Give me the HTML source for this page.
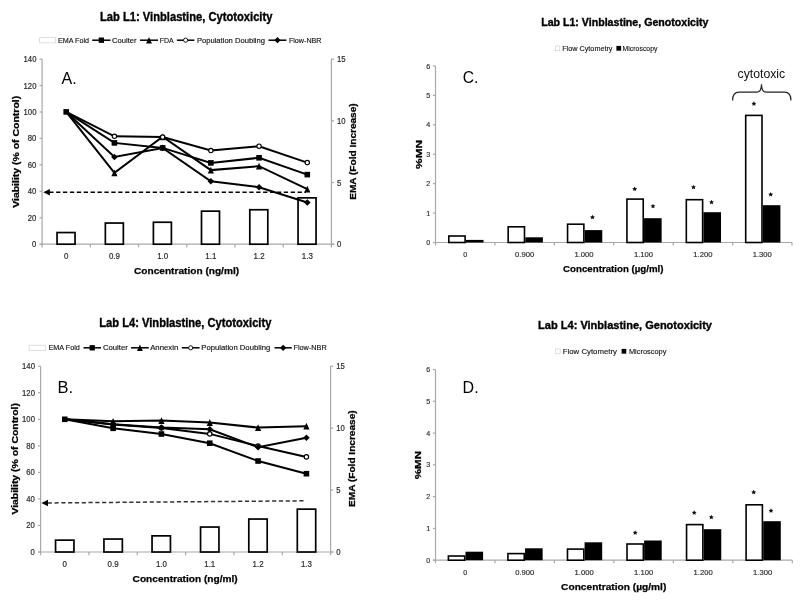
<!DOCTYPE html>
<html><head><meta charset="utf-8"><style>
html,body{margin:0;padding:0;background:#fff;}
svg{display:block;font-family:"Liberation Sans", sans-serif;will-change:transform;}
</style></head><body>
<svg width="800" height="604" viewBox="0 0 800 604">
<rect width="800" height="604" fill="#fff"/>
<text x="100.00" y="20.60" font-size="11.9" stroke="#000" stroke-width="0.35" font-weight="bold" textLength="172.40" lengthAdjust="spacingAndGlyphs">Lab L1: Vinblastine, Cytotoxicity</text>
<rect x="39.60" y="37.60" width="15.90" height="5.20" fill="#fff" stroke="#d8d8d8" stroke-width="0.8"/>
<text x="58.00" y="42.80" font-size="7.8" stroke="#111" stroke-width="0.15" fill="#111" textLength="31.00" lengthAdjust="spacingAndGlyphs">EMA Fold</text>
<text x="112.00" y="42.80" font-size="7.8" stroke="#111" stroke-width="0.15" fill="#111" textLength="24.50" lengthAdjust="spacingAndGlyphs">Coulter</text>
<text x="159.80" y="42.80" font-size="7.8" stroke="#111" stroke-width="0.15" fill="#111" textLength="14.00" lengthAdjust="spacingAndGlyphs">FDA</text>
<text x="196.90" y="42.80" font-size="7.8" stroke="#111" stroke-width="0.15" fill="#111" textLength="68.10" lengthAdjust="spacingAndGlyphs">Population Doubling</text>
<text x="288.90" y="42.80" font-size="7.8" stroke="#111" stroke-width="0.15" fill="#111" textLength="32.60" lengthAdjust="spacingAndGlyphs">Flow-NBR</text>
<line x1="92.20" y1="40.20" x2="110.50" y2="40.20" stroke="#000" stroke-width="1.5"/>
<rect x="98.69" y="37.54" width="5.32" height="5.32" fill="#000" stroke="none" stroke-width="1"/>
<line x1="140.00" y1="40.20" x2="158.00" y2="40.20" stroke="#000" stroke-width="1.5"/>
<path d="M149.00 36.97 L151.94 43.43 L146.06 43.43Z" fill="#000"/>
<line x1="176.90" y1="40.20" x2="194.40" y2="40.20" stroke="#000" stroke-width="1.5"/>
<circle cx="185.65" cy="40.20" r="2.09" fill="#fff" stroke="#000" stroke-width="0.9"/>
<line x1="268.50" y1="40.20" x2="286.40" y2="40.20" stroke="#000" stroke-width="1.5"/>
<path d="M277.45 37.07 L280.58 40.20 L277.45 43.34 L274.31 40.20Z" fill="#000"/>
<line x1="42.10" y1="59.10" x2="42.10" y2="244.70" stroke="#a8a8a8" stroke-width="1.2"/>
<line x1="331.40" y1="59.10" x2="331.40" y2="244.70" stroke="#a8a8a8" stroke-width="1.2"/>
<line x1="39.60" y1="244.20" x2="334.40" y2="244.20" stroke="#a8a8a8" stroke-width="1.2"/>
<line x1="39.50" y1="244.20" x2="42.10" y2="244.20" stroke="#a8a8a8" stroke-width="1.2"/>
<text x="0" y="0" transform="translate(36.40 247.20) scale(0.875 1)" font-size="8.8" stroke="#2a2a2a" stroke-width="0.2" fill="#2a2a2a" text-anchor="end">0</text>
<line x1="39.50" y1="217.76" x2="42.10" y2="217.76" stroke="#a8a8a8" stroke-width="1.2"/>
<text x="0" y="0" transform="translate(36.40 220.76) scale(0.875 1)" font-size="8.8" stroke="#2a2a2a" stroke-width="0.2" fill="#2a2a2a" text-anchor="end">20</text>
<line x1="39.50" y1="191.31" x2="42.10" y2="191.31" stroke="#a8a8a8" stroke-width="1.2"/>
<text x="0" y="0" transform="translate(36.40 194.31) scale(0.875 1)" font-size="8.8" stroke="#2a2a2a" stroke-width="0.2" fill="#2a2a2a" text-anchor="end">40</text>
<line x1="39.50" y1="164.87" x2="42.10" y2="164.87" stroke="#a8a8a8" stroke-width="1.2"/>
<text x="0" y="0" transform="translate(36.40 167.87) scale(0.875 1)" font-size="8.8" stroke="#2a2a2a" stroke-width="0.2" fill="#2a2a2a" text-anchor="end">60</text>
<line x1="39.50" y1="138.43" x2="42.10" y2="138.43" stroke="#a8a8a8" stroke-width="1.2"/>
<text x="0" y="0" transform="translate(36.40 141.43) scale(0.875 1)" font-size="8.8" stroke="#2a2a2a" stroke-width="0.2" fill="#2a2a2a" text-anchor="end">80</text>
<line x1="39.50" y1="111.99" x2="42.10" y2="111.99" stroke="#a8a8a8" stroke-width="1.2"/>
<text x="0" y="0" transform="translate(36.40 114.99) scale(0.875 1)" font-size="8.8" stroke="#2a2a2a" stroke-width="0.2" fill="#2a2a2a" text-anchor="end">100</text>
<line x1="39.50" y1="85.54" x2="42.10" y2="85.54" stroke="#a8a8a8" stroke-width="1.2"/>
<text x="0" y="0" transform="translate(36.40 88.54) scale(0.875 1)" font-size="8.8" stroke="#2a2a2a" stroke-width="0.2" fill="#2a2a2a" text-anchor="end">120</text>
<line x1="39.50" y1="59.10" x2="42.10" y2="59.10" stroke="#a8a8a8" stroke-width="1.2"/>
<text x="0" y="0" transform="translate(36.40 62.10) scale(0.875 1)" font-size="8.8" stroke="#2a2a2a" stroke-width="0.2" fill="#2a2a2a" text-anchor="end">140</text>
<line x1="331.40" y1="244.20" x2="334.00" y2="244.20" stroke="#a8a8a8" stroke-width="1.2"/>
<text x="0" y="0" transform="translate(337.00 247.20) scale(0.875 1)" font-size="8.8" stroke="#2a2a2a" stroke-width="0.2" fill="#2a2a2a">0</text>
<line x1="331.40" y1="182.50" x2="334.00" y2="182.50" stroke="#a8a8a8" stroke-width="1.2"/>
<text x="0" y="0" transform="translate(337.00 185.50) scale(0.875 1)" font-size="8.8" stroke="#2a2a2a" stroke-width="0.2" fill="#2a2a2a">5</text>
<line x1="331.40" y1="120.80" x2="334.00" y2="120.80" stroke="#a8a8a8" stroke-width="1.2"/>
<text x="0" y="0" transform="translate(337.00 123.80) scale(0.875 1)" font-size="8.8" stroke="#2a2a2a" stroke-width="0.2" fill="#2a2a2a">10</text>
<line x1="331.40" y1="59.10" x2="334.00" y2="59.10" stroke="#a8a8a8" stroke-width="1.2"/>
<text x="0" y="0" transform="translate(337.00 62.10) scale(0.875 1)" font-size="8.8" stroke="#2a2a2a" stroke-width="0.2" fill="#2a2a2a">15</text>
<line x1="42.10" y1="244.20" x2="42.10" y2="247.40" stroke="#a8a8a8" stroke-width="1.2"/>
<line x1="90.32" y1="244.20" x2="90.32" y2="247.40" stroke="#a8a8a8" stroke-width="1.2"/>
<line x1="138.53" y1="244.20" x2="138.53" y2="247.40" stroke="#a8a8a8" stroke-width="1.2"/>
<line x1="186.75" y1="244.20" x2="186.75" y2="247.40" stroke="#a8a8a8" stroke-width="1.2"/>
<line x1="234.97" y1="244.20" x2="234.97" y2="247.40" stroke="#a8a8a8" stroke-width="1.2"/>
<line x1="283.18" y1="244.20" x2="283.18" y2="247.40" stroke="#a8a8a8" stroke-width="1.2"/>
<line x1="331.40" y1="244.20" x2="331.40" y2="247.40" stroke="#a8a8a8" stroke-width="1.2"/>
<text x="0" y="0" transform="translate(66.21 258.90) scale(0.90125 1)" font-size="8.8" stroke="#2a2a2a" stroke-width="0.2" fill="#2a2a2a" text-anchor="middle">0</text>
<text x="0" y="0" transform="translate(114.42 258.90) scale(0.90125 1)" font-size="8.8" stroke="#2a2a2a" stroke-width="0.2" fill="#2a2a2a" text-anchor="middle">0.9</text>
<text x="0" y="0" transform="translate(162.64 258.90) scale(0.90125 1)" font-size="8.8" stroke="#2a2a2a" stroke-width="0.2" fill="#2a2a2a" text-anchor="middle">1.0</text>
<text x="0" y="0" transform="translate(210.86 258.90) scale(0.90125 1)" font-size="8.8" stroke="#2a2a2a" stroke-width="0.2" fill="#2a2a2a" text-anchor="middle">1.1</text>
<text x="0" y="0" transform="translate(259.07 258.90) scale(0.90125 1)" font-size="8.8" stroke="#2a2a2a" stroke-width="0.2" fill="#2a2a2a" text-anchor="middle">1.2</text>
<text x="0" y="0" transform="translate(307.29 258.90) scale(0.90125 1)" font-size="8.8" stroke="#2a2a2a" stroke-width="0.2" fill="#2a2a2a" text-anchor="middle">1.3</text>
<text x="18.60" y="207.80" font-size="8.35" stroke="#000" stroke-width="0.25" font-weight="bold" textLength="112.00" lengthAdjust="spacingAndGlyphs" transform="rotate(-90 18.60 207.80)">Viability (% of Control)</text>
<text x="356.30" y="199.80" font-size="8.35" stroke="#000" stroke-width="0.25" font-weight="bold" textLength="96.50" lengthAdjust="spacingAndGlyphs" transform="rotate(-90 356.30 199.80)">EMA (Fold Increase)</text>
<text x="134.00" y="273.90" font-size="9.6" stroke="#000" stroke-width="0.25" font-weight="bold" textLength="105.10" lengthAdjust="spacingAndGlyphs">Concentration (ng/ml)</text>
<text x="61.60" y="84.00" font-size="16">A.</text>
<rect x="57.05" y="232.55" width="18.00" height="11.65" fill="#fff" stroke="#000" stroke-width="1.7"/>
<rect x="105.35" y="223.05" width="18.00" height="21.15" fill="#fff" stroke="#000" stroke-width="1.7"/>
<rect x="153.40" y="222.25" width="18.00" height="21.95" fill="#fff" stroke="#000" stroke-width="1.7"/>
<rect x="201.50" y="211.15" width="18.00" height="33.05" fill="#fff" stroke="#000" stroke-width="1.7"/>
<rect x="249.80" y="209.75" width="18.00" height="34.45" fill="#fff" stroke="#000" stroke-width="1.7"/>
<rect x="298.05" y="197.85" width="18.00" height="46.35" fill="#fff" stroke="#000" stroke-width="1.7"/>
<line x1="49.20" y1="192.30" x2="306.00" y2="192.30" stroke="#000" stroke-width="1.5" stroke-dasharray="4.3 2.6"/>
<path d="M43.30 192.30 L49.90 189.00 L49.90 195.60Z" fill="#000"/>
<polyline points="66.21,111.90 114.42,172.80 162.64,136.80 210.86,170.10 259.07,166.20 307.29,189.20" fill="none" stroke="#000" stroke-width="2" stroke-linejoin="miter"/>
<polyline points="66.21,111.90 114.42,136.30 162.64,137.00 210.86,150.50 259.07,146.20 307.29,162.60" fill="none" stroke="#000" stroke-width="2" stroke-linejoin="miter"/>
<polyline points="66.21,111.90 114.42,157.00 162.64,148.00 210.86,181.30 259.07,187.20 307.29,202.50" fill="none" stroke="#000" stroke-width="2" stroke-linejoin="miter"/>
<polyline points="66.21,111.90 114.42,142.90 162.64,147.90 210.86,162.90 259.07,157.80 307.29,174.60" fill="none" stroke="#000" stroke-width="2" stroke-linejoin="miter"/>
<path d="M114.42 169.40 L117.52 176.20 L111.32 176.20Z" fill="#000"/>
<path d="M162.64 133.40 L165.74 140.20 L159.54 140.20Z" fill="#000"/>
<path d="M210.86 166.70 L213.96 173.50 L207.76 173.50Z" fill="#000"/>
<path d="M259.07 162.80 L262.18 169.60 L255.97 169.60Z" fill="#000"/>
<path d="M307.29 185.80 L310.39 192.60 L304.19 192.60Z" fill="#000"/>
<circle cx="114.42" cy="136.30" r="2.20" fill="#fff" stroke="#000" stroke-width="1.15"/>
<circle cx="162.64" cy="137.00" r="2.20" fill="#fff" stroke="#000" stroke-width="1.15"/>
<circle cx="210.86" cy="150.50" r="2.20" fill="#fff" stroke="#000" stroke-width="1.15"/>
<circle cx="259.07" cy="146.20" r="2.20" fill="#fff" stroke="#000" stroke-width="1.15"/>
<circle cx="307.29" cy="162.60" r="2.20" fill="#fff" stroke="#000" stroke-width="1.15"/>
<path d="M114.42 153.70 L117.72 157.00 L114.42 160.30 L111.12 157.00Z" fill="#000"/>
<path d="M162.64 144.70 L165.94 148.00 L162.64 151.30 L159.34 148.00Z" fill="#000"/>
<path d="M210.86 178.00 L214.16 181.30 L210.86 184.60 L207.56 181.30Z" fill="#000"/>
<path d="M259.07 183.90 L262.38 187.20 L259.07 190.50 L255.77 187.20Z" fill="#000"/>
<path d="M307.29 199.20 L310.59 202.50 L307.29 205.80 L303.99 202.50Z" fill="#000"/>
<rect x="63.41" y="109.10" width="5.60" height="5.60" fill="#000" stroke="none" stroke-width="1"/>
<rect x="111.62" y="140.10" width="5.60" height="5.60" fill="#000" stroke="none" stroke-width="1"/>
<rect x="159.84" y="145.10" width="5.60" height="5.60" fill="#000" stroke="none" stroke-width="1"/>
<rect x="208.06" y="160.10" width="5.60" height="5.60" fill="#000" stroke="none" stroke-width="1"/>
<rect x="256.27" y="155.00" width="5.60" height="5.60" fill="#000" stroke="none" stroke-width="1"/>
<rect x="304.49" y="171.80" width="5.60" height="5.60" fill="#000" stroke="none" stroke-width="1"/>
<text x="99.20" y="327.20" font-size="11.9" stroke="#000" stroke-width="0.35" font-weight="bold" textLength="172.20" lengthAdjust="spacingAndGlyphs">Lab L4: Vinblastine, Cytotoxicity</text>
<rect x="29.10" y="345.20" width="16.50" height="5.20" fill="#fff" stroke="#d8d8d8" stroke-width="0.8"/>
<text x="48.50" y="350.40" font-size="7.8" stroke="#111" stroke-width="0.15" fill="#111" textLength="31.30" lengthAdjust="spacingAndGlyphs">EMA Fold</text>
<text x="102.90" y="350.40" font-size="7.8" stroke="#111" stroke-width="0.15" fill="#111" textLength="24.90" lengthAdjust="spacingAndGlyphs">Coulter</text>
<text x="150.20" y="350.40" font-size="7.8" stroke="#111" stroke-width="0.15" fill="#111" textLength="28.10" lengthAdjust="spacingAndGlyphs">Annexin</text>
<text x="201.30" y="350.40" font-size="7.8" stroke="#111" stroke-width="0.15" fill="#111" textLength="68.90" lengthAdjust="spacingAndGlyphs">Population Doubling</text>
<text x="293.50" y="350.40" font-size="7.8" stroke="#111" stroke-width="0.15" fill="#111" textLength="33.20" lengthAdjust="spacingAndGlyphs">Flow-NBR</text>
<line x1="83.50" y1="347.80" x2="101.00" y2="347.80" stroke="#000" stroke-width="1.5"/>
<rect x="89.59" y="345.14" width="5.32" height="5.32" fill="#000" stroke="none" stroke-width="1"/>
<line x1="131.00" y1="347.80" x2="148.80" y2="347.80" stroke="#000" stroke-width="1.5"/>
<path d="M139.90 344.57 L142.84 351.03 L136.96 351.03Z" fill="#000"/>
<line x1="181.80" y1="347.80" x2="199.60" y2="347.80" stroke="#000" stroke-width="1.5"/>
<circle cx="190.70" cy="347.80" r="2.09" fill="#fff" stroke="#000" stroke-width="0.9"/>
<line x1="274.50" y1="347.80" x2="291.80" y2="347.80" stroke="#000" stroke-width="1.5"/>
<path d="M283.15 344.67 L286.28 347.80 L283.15 350.94 L280.01 347.80Z" fill="#000"/>
<line x1="40.60" y1="366.20" x2="40.60" y2="552.50" stroke="#a8a8a8" stroke-width="1.2"/>
<line x1="330.60" y1="366.20" x2="330.60" y2="552.50" stroke="#a8a8a8" stroke-width="1.2"/>
<line x1="38.10" y1="552.00" x2="333.60" y2="552.00" stroke="#a8a8a8" stroke-width="1.2"/>
<line x1="38.00" y1="552.00" x2="40.60" y2="552.00" stroke="#a8a8a8" stroke-width="1.2"/>
<text x="0" y="0" transform="translate(34.90 555.00) scale(0.875 1)" font-size="8.8" stroke="#2a2a2a" stroke-width="0.2" fill="#2a2a2a" text-anchor="end">0</text>
<line x1="38.00" y1="525.46" x2="40.60" y2="525.46" stroke="#a8a8a8" stroke-width="1.2"/>
<text x="0" y="0" transform="translate(34.90 528.46) scale(0.875 1)" font-size="8.8" stroke="#2a2a2a" stroke-width="0.2" fill="#2a2a2a" text-anchor="end">20</text>
<line x1="38.00" y1="498.91" x2="40.60" y2="498.91" stroke="#a8a8a8" stroke-width="1.2"/>
<text x="0" y="0" transform="translate(34.90 501.91) scale(0.875 1)" font-size="8.8" stroke="#2a2a2a" stroke-width="0.2" fill="#2a2a2a" text-anchor="end">40</text>
<line x1="38.00" y1="472.37" x2="40.60" y2="472.37" stroke="#a8a8a8" stroke-width="1.2"/>
<text x="0" y="0" transform="translate(34.90 475.37) scale(0.875 1)" font-size="8.8" stroke="#2a2a2a" stroke-width="0.2" fill="#2a2a2a" text-anchor="end">60</text>
<line x1="38.00" y1="445.83" x2="40.60" y2="445.83" stroke="#a8a8a8" stroke-width="1.2"/>
<text x="0" y="0" transform="translate(34.90 448.83) scale(0.875 1)" font-size="8.8" stroke="#2a2a2a" stroke-width="0.2" fill="#2a2a2a" text-anchor="end">80</text>
<line x1="38.00" y1="419.29" x2="40.60" y2="419.29" stroke="#a8a8a8" stroke-width="1.2"/>
<text x="0" y="0" transform="translate(34.90 422.29) scale(0.875 1)" font-size="8.8" stroke="#2a2a2a" stroke-width="0.2" fill="#2a2a2a" text-anchor="end">100</text>
<line x1="38.00" y1="392.74" x2="40.60" y2="392.74" stroke="#a8a8a8" stroke-width="1.2"/>
<text x="0" y="0" transform="translate(34.90 395.74) scale(0.875 1)" font-size="8.8" stroke="#2a2a2a" stroke-width="0.2" fill="#2a2a2a" text-anchor="end">120</text>
<line x1="38.00" y1="366.20" x2="40.60" y2="366.20" stroke="#a8a8a8" stroke-width="1.2"/>
<text x="0" y="0" transform="translate(34.90 369.20) scale(0.875 1)" font-size="8.8" stroke="#2a2a2a" stroke-width="0.2" fill="#2a2a2a" text-anchor="end">140</text>
<line x1="330.60" y1="552.00" x2="333.20" y2="552.00" stroke="#a8a8a8" stroke-width="1.2"/>
<text x="0" y="0" transform="translate(336.20 555.00) scale(0.875 1)" font-size="8.8" stroke="#2a2a2a" stroke-width="0.2" fill="#2a2a2a">0</text>
<line x1="330.60" y1="490.07" x2="333.20" y2="490.07" stroke="#a8a8a8" stroke-width="1.2"/>
<text x="0" y="0" transform="translate(336.20 493.07) scale(0.875 1)" font-size="8.8" stroke="#2a2a2a" stroke-width="0.2" fill="#2a2a2a">5</text>
<line x1="330.60" y1="428.13" x2="333.20" y2="428.13" stroke="#a8a8a8" stroke-width="1.2"/>
<text x="0" y="0" transform="translate(336.20 431.13) scale(0.875 1)" font-size="8.8" stroke="#2a2a2a" stroke-width="0.2" fill="#2a2a2a">10</text>
<line x1="330.60" y1="366.20" x2="333.20" y2="366.20" stroke="#a8a8a8" stroke-width="1.2"/>
<text x="0" y="0" transform="translate(336.20 369.20) scale(0.875 1)" font-size="8.8" stroke="#2a2a2a" stroke-width="0.2" fill="#2a2a2a">15</text>
<line x1="40.60" y1="552.00" x2="40.60" y2="555.20" stroke="#a8a8a8" stroke-width="1.2"/>
<line x1="88.93" y1="552.00" x2="88.93" y2="555.20" stroke="#a8a8a8" stroke-width="1.2"/>
<line x1="137.27" y1="552.00" x2="137.27" y2="555.20" stroke="#a8a8a8" stroke-width="1.2"/>
<line x1="185.60" y1="552.00" x2="185.60" y2="555.20" stroke="#a8a8a8" stroke-width="1.2"/>
<line x1="233.93" y1="552.00" x2="233.93" y2="555.20" stroke="#a8a8a8" stroke-width="1.2"/>
<line x1="282.27" y1="552.00" x2="282.27" y2="555.20" stroke="#a8a8a8" stroke-width="1.2"/>
<line x1="330.60" y1="552.00" x2="330.60" y2="555.20" stroke="#a8a8a8" stroke-width="1.2"/>
<text x="0" y="0" transform="translate(64.77 566.50) scale(0.90125 1)" font-size="8.8" stroke="#2a2a2a" stroke-width="0.2" fill="#2a2a2a" text-anchor="middle">0</text>
<text x="0" y="0" transform="translate(113.10 566.50) scale(0.90125 1)" font-size="8.8" stroke="#2a2a2a" stroke-width="0.2" fill="#2a2a2a" text-anchor="middle">0.9</text>
<text x="0" y="0" transform="translate(161.43 566.50) scale(0.90125 1)" font-size="8.8" stroke="#2a2a2a" stroke-width="0.2" fill="#2a2a2a" text-anchor="middle">1.0</text>
<text x="0" y="0" transform="translate(209.77 566.50) scale(0.90125 1)" font-size="8.8" stroke="#2a2a2a" stroke-width="0.2" fill="#2a2a2a" text-anchor="middle">1.1</text>
<text x="0" y="0" transform="translate(258.10 566.50) scale(0.90125 1)" font-size="8.8" stroke="#2a2a2a" stroke-width="0.2" fill="#2a2a2a" text-anchor="middle">1.2</text>
<text x="0" y="0" transform="translate(306.43 566.50) scale(0.90125 1)" font-size="8.8" stroke="#2a2a2a" stroke-width="0.2" fill="#2a2a2a" text-anchor="middle">1.3</text>
<text x="17.60" y="514.60" font-size="8.35" stroke="#000" stroke-width="0.25" font-weight="bold" textLength="111.50" lengthAdjust="spacingAndGlyphs" transform="rotate(-90 17.60 514.60)">Viability (% of Control)</text>
<text x="355.30" y="506.90" font-size="8.35" stroke="#000" stroke-width="0.25" font-weight="bold" textLength="96.50" lengthAdjust="spacingAndGlyphs" transform="rotate(-90 355.30 506.90)">EMA (Fold Increase)</text>
<text x="132.60" y="582.00" font-size="9.6" stroke="#000" stroke-width="0.25" font-weight="bold" textLength="105.10" lengthAdjust="spacingAndGlyphs">Concentration (ng/ml)</text>
<text x="57.40" y="392.50" font-size="16.5">B.</text>
<rect x="55.55" y="540.15" width="18.40" height="11.85" fill="#fff" stroke="#000" stroke-width="1.7"/>
<rect x="103.95" y="539.05" width="18.40" height="12.95" fill="#fff" stroke="#000" stroke-width="1.7"/>
<rect x="152.05" y="535.85" width="18.40" height="16.15" fill="#fff" stroke="#000" stroke-width="1.7"/>
<rect x="200.55" y="527.05" width="18.40" height="24.95" fill="#fff" stroke="#000" stroke-width="1.7"/>
<rect x="248.80" y="519.05" width="18.40" height="32.95" fill="#fff" stroke="#000" stroke-width="1.7"/>
<rect x="297.30" y="509.15" width="18.40" height="42.85" fill="#fff" stroke="#000" stroke-width="1.7"/>
<line x1="47.70" y1="502.95" x2="306.00" y2="500.80" stroke="#333" stroke-width="1.5" stroke-dasharray="4.2 2.6"/>
<path d="M41.40 503.00 L48.00 499.70 L48.00 506.30Z" fill="#000"/>
<polyline points="64.77,419.30 113.10,421.30 161.43,420.60 209.77,422.50 258.10,427.60 306.43,426.20" fill="none" stroke="#000" stroke-width="2" stroke-linejoin="miter"/>
<polyline points="64.77,419.30 113.10,424.50 161.43,428.00 209.77,433.90 258.10,446.00 306.43,456.90" fill="none" stroke="#000" stroke-width="2" stroke-linejoin="miter"/>
<polyline points="64.77,419.30 113.10,424.30 161.43,427.50 209.77,429.20 258.10,447.30 306.43,437.80" fill="none" stroke="#000" stroke-width="2" stroke-linejoin="miter"/>
<polyline points="64.77,419.30 113.10,428.30 161.43,434.00 209.77,443.20 258.10,461.00 306.43,473.70" fill="none" stroke="#000" stroke-width="2" stroke-linejoin="miter"/>
<path d="M113.10 417.90 L116.20 424.70 L110.00 424.70Z" fill="#000"/>
<path d="M161.43 417.20 L164.53 424.00 L158.33 424.00Z" fill="#000"/>
<path d="M209.77 419.10 L212.87 425.90 L206.67 425.90Z" fill="#000"/>
<path d="M258.10 424.20 L261.20 431.00 L255.00 431.00Z" fill="#000"/>
<path d="M306.43 422.80 L309.53 429.60 L303.33 429.60Z" fill="#000"/>
<circle cx="113.10" cy="424.50" r="2.20" fill="#fff" stroke="#000" stroke-width="1.15"/>
<circle cx="161.43" cy="428.00" r="2.20" fill="#fff" stroke="#000" stroke-width="1.15"/>
<circle cx="209.77" cy="433.90" r="2.20" fill="#fff" stroke="#000" stroke-width="1.15"/>
<circle cx="258.10" cy="446.00" r="2.20" fill="#fff" stroke="#000" stroke-width="1.15"/>
<circle cx="306.43" cy="456.90" r="2.20" fill="#fff" stroke="#000" stroke-width="1.15"/>
<path d="M113.10 421.00 L116.40 424.30 L113.10 427.60 L109.80 424.30Z" fill="#000"/>
<path d="M161.43 424.20 L164.73 427.50 L161.43 430.80 L158.13 427.50Z" fill="#000"/>
<path d="M209.77 425.90 L213.07 429.20 L209.77 432.50 L206.47 429.20Z" fill="#000"/>
<path d="M258.10 444.00 L261.40 447.30 L258.10 450.60 L254.80 447.30Z" fill="#000"/>
<path d="M306.43 434.50 L309.73 437.80 L306.43 441.10 L303.13 437.80Z" fill="#000"/>
<rect x="61.97" y="416.50" width="5.60" height="5.60" fill="#000" stroke="none" stroke-width="1"/>
<rect x="110.30" y="425.50" width="5.60" height="5.60" fill="#000" stroke="none" stroke-width="1"/>
<rect x="158.63" y="431.20" width="5.60" height="5.60" fill="#000" stroke="none" stroke-width="1"/>
<rect x="206.97" y="440.40" width="5.60" height="5.60" fill="#000" stroke="none" stroke-width="1"/>
<rect x="255.30" y="458.20" width="5.60" height="5.60" fill="#000" stroke="none" stroke-width="1"/>
<rect x="303.63" y="470.90" width="5.60" height="5.60" fill="#000" stroke="none" stroke-width="1"/>
<text x="541.20" y="26.10" font-size="10.1" stroke="#000" stroke-width="0.35" font-weight="bold" textLength="167.20" lengthAdjust="spacingAndGlyphs">Lab L1: Vinblastine, Genotoxicity</text>
<rect x="555.50" y="45.90" width="4.30" height="4.80" fill="#fff" stroke="#d0d0d0" stroke-width="0.7"/>
<rect x="616.40" y="45.90" width="4.70" height="4.80" fill="#000" stroke="none" stroke-width="1"/>
<text x="562.20" y="50.80" font-size="7.2" stroke="#111" stroke-width="0.12" fill="#111" textLength="50.30" lengthAdjust="spacingAndGlyphs">Flow Cytometry</text>
<text x="622.60" y="50.80" font-size="7.2" stroke="#111" stroke-width="0.12" fill="#111" textLength="34.90" lengthAdjust="spacingAndGlyphs">Microscopy</text>
<line x1="435.50" y1="66.00" x2="435.50" y2="243.00" stroke="#a8a8a8" stroke-width="1.2"/>
<line x1="433.00" y1="242.50" x2="792.00" y2="242.50" stroke="#a8a8a8" stroke-width="1.2"/>
<line x1="432.90" y1="242.50" x2="435.50" y2="242.50" stroke="#a8a8a8" stroke-width="1.2"/>
<text x="0" y="0" transform="translate(430.30 245.10) scale(0.92 1)" font-size="7.8" stroke="#2a2a2a" stroke-width="0.15" fill="#2a2a2a" text-anchor="end">0</text>
<line x1="432.90" y1="213.08" x2="435.50" y2="213.08" stroke="#a8a8a8" stroke-width="1.2"/>
<text x="0" y="0" transform="translate(430.30 215.68) scale(0.92 1)" font-size="7.8" stroke="#2a2a2a" stroke-width="0.15" fill="#2a2a2a" text-anchor="end">1</text>
<line x1="432.90" y1="183.67" x2="435.50" y2="183.67" stroke="#a8a8a8" stroke-width="1.2"/>
<text x="0" y="0" transform="translate(430.30 186.27) scale(0.92 1)" font-size="7.8" stroke="#2a2a2a" stroke-width="0.15" fill="#2a2a2a" text-anchor="end">2</text>
<line x1="432.90" y1="154.25" x2="435.50" y2="154.25" stroke="#a8a8a8" stroke-width="1.2"/>
<text x="0" y="0" transform="translate(430.30 156.85) scale(0.92 1)" font-size="7.8" stroke="#2a2a2a" stroke-width="0.15" fill="#2a2a2a" text-anchor="end">3</text>
<line x1="432.90" y1="124.83" x2="435.50" y2="124.83" stroke="#a8a8a8" stroke-width="1.2"/>
<text x="0" y="0" transform="translate(430.30 127.43) scale(0.92 1)" font-size="7.8" stroke="#2a2a2a" stroke-width="0.15" fill="#2a2a2a" text-anchor="end">4</text>
<line x1="432.90" y1="95.42" x2="435.50" y2="95.42" stroke="#a8a8a8" stroke-width="1.2"/>
<text x="0" y="0" transform="translate(430.30 98.02) scale(0.92 1)" font-size="7.8" stroke="#2a2a2a" stroke-width="0.15" fill="#2a2a2a" text-anchor="end">5</text>
<line x1="432.90" y1="66.00" x2="435.50" y2="66.00" stroke="#a8a8a8" stroke-width="1.2"/>
<text x="0" y="0" transform="translate(430.30 68.60) scale(0.92 1)" font-size="7.8" stroke="#2a2a2a" stroke-width="0.15" fill="#2a2a2a" text-anchor="end">6</text>
<line x1="435.50" y1="242.50" x2="435.50" y2="245.50" stroke="#a8a8a8" stroke-width="1.2"/>
<line x1="494.92" y1="242.50" x2="494.92" y2="245.50" stroke="#a8a8a8" stroke-width="1.2"/>
<line x1="554.33" y1="242.50" x2="554.33" y2="245.50" stroke="#a8a8a8" stroke-width="1.2"/>
<line x1="613.75" y1="242.50" x2="613.75" y2="245.50" stroke="#a8a8a8" stroke-width="1.2"/>
<line x1="673.17" y1="242.50" x2="673.17" y2="245.50" stroke="#a8a8a8" stroke-width="1.2"/>
<line x1="732.58" y1="242.50" x2="732.58" y2="245.50" stroke="#a8a8a8" stroke-width="1.2"/>
<line x1="792.00" y1="242.50" x2="792.00" y2="245.50" stroke="#a8a8a8" stroke-width="1.2"/>
<text x="0" y="0" transform="translate(465.21 257.10) scale(0.92 1)" font-size="7.8" stroke="#2a2a2a" stroke-width="0.15" fill="#2a2a2a" text-anchor="middle">0</text>
<text x="0" y="0" transform="translate(524.62 257.10) scale(0.9813333333333334 1)" font-size="7.8" stroke="#2a2a2a" stroke-width="0.15" fill="#2a2a2a" text-anchor="middle">0.900</text>
<text x="0" y="0" transform="translate(584.04 257.10) scale(0.9813333333333334 1)" font-size="7.8" stroke="#2a2a2a" stroke-width="0.15" fill="#2a2a2a" text-anchor="middle">1.000</text>
<text x="0" y="0" transform="translate(643.46 257.10) scale(0.9813333333333334 1)" font-size="7.8" stroke="#2a2a2a" stroke-width="0.15" fill="#2a2a2a" text-anchor="middle">1.100</text>
<text x="0" y="0" transform="translate(702.88 257.10) scale(0.9813333333333334 1)" font-size="7.8" stroke="#2a2a2a" stroke-width="0.15" fill="#2a2a2a" text-anchor="middle">1.200</text>
<text x="0" y="0" transform="translate(762.29 257.10) scale(0.9813333333333334 1)" font-size="7.8" stroke="#2a2a2a" stroke-width="0.15" fill="#2a2a2a" text-anchor="middle">1.300</text>
<text x="422.20" y="168.90" font-size="8.6" stroke="#000" stroke-width="0.25" font-weight="bold" textLength="29.00" lengthAdjust="spacingAndGlyphs" transform="rotate(-90 422.20 168.90)">%MN</text>
<text x="563.10" y="271.90" font-size="9.8" stroke="#000" stroke-width="0.25" font-weight="bold" textLength="100.40" lengthAdjust="spacingAndGlyphs">Concentration (µg/ml)</text>
<text x="462.70" y="83.10" font-size="15.6">C.</text>
<rect x="465.90" y="239.90" width="17.60" height="2.60" fill="#000" stroke="none" stroke-width="1"/>
<rect x="448.80" y="236.00" width="16.30" height="6.50" fill="#fff" stroke="#000" stroke-width="1.6"/>
<rect x="525.28" y="237.30" width="17.60" height="5.20" fill="#000" stroke="none" stroke-width="1"/>
<rect x="508.18" y="226.80" width="16.30" height="15.70" fill="#fff" stroke="#000" stroke-width="1.6"/>
<rect x="584.66" y="230.10" width="17.60" height="12.40" fill="#000" stroke="none" stroke-width="1"/>
<rect x="567.56" y="224.20" width="16.30" height="18.30" fill="#fff" stroke="#000" stroke-width="1.6"/>
<rect x="644.04" y="218.20" width="17.60" height="24.30" fill="#000" stroke="none" stroke-width="1"/>
<rect x="626.94" y="199.10" width="16.30" height="43.40" fill="#fff" stroke="#000" stroke-width="1.6"/>
<rect x="703.42" y="212.20" width="17.60" height="30.30" fill="#000" stroke="none" stroke-width="1"/>
<rect x="686.32" y="199.70" width="16.30" height="42.80" fill="#fff" stroke="#000" stroke-width="1.6"/>
<rect x="762.80" y="205.20" width="17.60" height="37.30" fill="#000" stroke="none" stroke-width="1"/>
<rect x="745.70" y="115.40" width="16.30" height="127.10" fill="#fff" stroke="#000" stroke-width="1.6"/>
<polygon points="592.50,214.75 593.26,216.25 594.93,216.51 593.74,217.70 594.00,219.36 592.50,218.60 591.00,219.36 591.26,217.70 590.07,216.51 591.74,216.25" fill="#111"/>
<polygon points="634.70,186.45 635.46,187.95 637.13,188.21 635.94,189.40 636.20,191.06 634.70,190.30 633.20,191.06 633.46,189.40 632.27,188.21 633.94,187.95" fill="#111"/>
<polygon points="653.00,203.65 653.76,205.15 655.43,205.41 654.24,206.60 654.50,208.26 653.00,207.50 651.50,208.26 651.76,206.60 650.57,205.41 652.24,205.15" fill="#111"/>
<polygon points="693.50,184.65 694.26,186.15 695.93,186.41 694.74,187.60 695.00,189.26 693.50,188.50 692.00,189.26 692.26,187.60 691.07,186.41 692.74,186.15" fill="#111"/>
<polygon points="711.50,199.65 712.26,201.15 713.93,201.41 712.74,202.60 713.00,204.26 711.50,203.50 710.00,204.26 710.26,202.60 709.07,201.41 710.74,201.15" fill="#111"/>
<polygon points="753.90,101.15 754.66,102.65 756.33,102.91 755.14,104.10 755.40,105.76 753.90,105.00 752.40,105.76 752.66,104.10 751.47,102.91 753.14,102.65" fill="#111"/>
<polygon points="770.70,191.95 771.46,193.45 773.13,193.71 771.94,194.90 772.20,196.56 770.70,195.80 769.20,196.56 769.46,194.90 768.27,193.71 769.94,193.45" fill="#111"/>
<text x="538.10" y="329.20" font-size="10.9" stroke="#000" stroke-width="0.35" font-weight="bold" textLength="173.90" lengthAdjust="spacingAndGlyphs">Lab L4: Vinblastine, Genotoxicity</text>
<rect x="555.50" y="348.90" width="4.70" height="4.80" fill="#fff" stroke="#d0d0d0" stroke-width="0.7"/>
<rect x="621.60" y="348.90" width="4.70" height="4.80" fill="#000" stroke="none" stroke-width="1"/>
<text x="562.80" y="353.80" font-size="7.2" stroke="#111" stroke-width="0.12" fill="#111" textLength="54.10" lengthAdjust="spacingAndGlyphs">Flow Cytometry</text>
<text x="628.90" y="353.80" font-size="7.2" stroke="#111" stroke-width="0.12" fill="#111" textLength="37.50" lengthAdjust="spacingAndGlyphs">Microscopy</text>
<line x1="435.50" y1="369.50" x2="435.50" y2="560.70" stroke="#a8a8a8" stroke-width="1.2"/>
<line x1="433.00" y1="560.20" x2="792.30" y2="560.20" stroke="#a8a8a8" stroke-width="1.2"/>
<line x1="432.90" y1="560.20" x2="435.50" y2="560.20" stroke="#a8a8a8" stroke-width="1.2"/>
<text x="0" y="0" transform="translate(430.30 562.80) scale(0.92 1)" font-size="7.8" stroke="#2a2a2a" stroke-width="0.15" fill="#2a2a2a" text-anchor="end">0</text>
<line x1="432.90" y1="528.42" x2="435.50" y2="528.42" stroke="#a8a8a8" stroke-width="1.2"/>
<text x="0" y="0" transform="translate(430.30 531.02) scale(0.92 1)" font-size="7.8" stroke="#2a2a2a" stroke-width="0.15" fill="#2a2a2a" text-anchor="end">1</text>
<line x1="432.90" y1="496.63" x2="435.50" y2="496.63" stroke="#a8a8a8" stroke-width="1.2"/>
<text x="0" y="0" transform="translate(430.30 499.23) scale(0.92 1)" font-size="7.8" stroke="#2a2a2a" stroke-width="0.15" fill="#2a2a2a" text-anchor="end">2</text>
<line x1="432.90" y1="464.85" x2="435.50" y2="464.85" stroke="#a8a8a8" stroke-width="1.2"/>
<text x="0" y="0" transform="translate(430.30 467.45) scale(0.92 1)" font-size="7.8" stroke="#2a2a2a" stroke-width="0.15" fill="#2a2a2a" text-anchor="end">3</text>
<line x1="432.90" y1="433.07" x2="435.50" y2="433.07" stroke="#a8a8a8" stroke-width="1.2"/>
<text x="0" y="0" transform="translate(430.30 435.67) scale(0.92 1)" font-size="7.8" stroke="#2a2a2a" stroke-width="0.15" fill="#2a2a2a" text-anchor="end">4</text>
<line x1="432.90" y1="401.28" x2="435.50" y2="401.28" stroke="#a8a8a8" stroke-width="1.2"/>
<text x="0" y="0" transform="translate(430.30 403.88) scale(0.92 1)" font-size="7.8" stroke="#2a2a2a" stroke-width="0.15" fill="#2a2a2a" text-anchor="end">5</text>
<line x1="432.90" y1="369.50" x2="435.50" y2="369.50" stroke="#a8a8a8" stroke-width="1.2"/>
<text x="0" y="0" transform="translate(430.30 372.10) scale(0.92 1)" font-size="7.8" stroke="#2a2a2a" stroke-width="0.15" fill="#2a2a2a" text-anchor="end">6</text>
<line x1="435.50" y1="560.20" x2="435.50" y2="563.20" stroke="#a8a8a8" stroke-width="1.2"/>
<line x1="494.97" y1="560.20" x2="494.97" y2="563.20" stroke="#a8a8a8" stroke-width="1.2"/>
<line x1="554.43" y1="560.20" x2="554.43" y2="563.20" stroke="#a8a8a8" stroke-width="1.2"/>
<line x1="613.90" y1="560.20" x2="613.90" y2="563.20" stroke="#a8a8a8" stroke-width="1.2"/>
<line x1="673.37" y1="560.20" x2="673.37" y2="563.20" stroke="#a8a8a8" stroke-width="1.2"/>
<line x1="732.83" y1="560.20" x2="732.83" y2="563.20" stroke="#a8a8a8" stroke-width="1.2"/>
<line x1="792.30" y1="560.20" x2="792.30" y2="563.20" stroke="#a8a8a8" stroke-width="1.2"/>
<text x="0" y="0" transform="translate(465.23 574.80) scale(0.92 1)" font-size="7.8" stroke="#2a2a2a" stroke-width="0.15" fill="#2a2a2a" text-anchor="middle">0</text>
<text x="0" y="0" transform="translate(524.70 574.80) scale(0.9813333333333334 1)" font-size="7.8" stroke="#2a2a2a" stroke-width="0.15" fill="#2a2a2a" text-anchor="middle">0.900</text>
<text x="0" y="0" transform="translate(584.17 574.80) scale(0.9813333333333334 1)" font-size="7.8" stroke="#2a2a2a" stroke-width="0.15" fill="#2a2a2a" text-anchor="middle">1.000</text>
<text x="0" y="0" transform="translate(643.63 574.80) scale(0.9813333333333334 1)" font-size="7.8" stroke="#2a2a2a" stroke-width="0.15" fill="#2a2a2a" text-anchor="middle">1.100</text>
<text x="0" y="0" transform="translate(703.10 574.80) scale(0.9813333333333334 1)" font-size="7.8" stroke="#2a2a2a" stroke-width="0.15" fill="#2a2a2a" text-anchor="middle">1.200</text>
<text x="0" y="0" transform="translate(762.57 574.80) scale(0.9813333333333334 1)" font-size="7.8" stroke="#2a2a2a" stroke-width="0.15" fill="#2a2a2a" text-anchor="middle">1.300</text>
<text x="420.90" y="479.20" font-size="8.6" stroke="#000" stroke-width="0.25" font-weight="bold" textLength="28.30" lengthAdjust="spacingAndGlyphs" transform="rotate(-90 420.90 479.20)">%MN</text>
<text x="561.10" y="590.20" font-size="9.8" stroke="#000" stroke-width="0.25" font-weight="bold" textLength="105.20" lengthAdjust="spacingAndGlyphs">Concentration (µg/ml)</text>
<text x="462.60" y="393.10" font-size="16">D.</text>
<rect x="465.50" y="551.70" width="17.60" height="8.50" fill="#000" stroke="none" stroke-width="1"/>
<rect x="448.40" y="556.00" width="16.30" height="4.20" fill="#fff" stroke="#000" stroke-width="1.6"/>
<rect x="525.04" y="548.30" width="17.60" height="11.90" fill="#000" stroke="none" stroke-width="1"/>
<rect x="507.94" y="553.60" width="16.30" height="6.60" fill="#fff" stroke="#000" stroke-width="1.6"/>
<rect x="584.58" y="542.30" width="17.60" height="17.90" fill="#000" stroke="none" stroke-width="1"/>
<rect x="567.48" y="549.10" width="16.30" height="11.10" fill="#fff" stroke="#000" stroke-width="1.6"/>
<rect x="644.12" y="540.50" width="17.60" height="19.70" fill="#000" stroke="none" stroke-width="1"/>
<rect x="627.02" y="544.00" width="16.30" height="16.20" fill="#fff" stroke="#000" stroke-width="1.6"/>
<rect x="703.66" y="529.20" width="17.60" height="31.00" fill="#000" stroke="none" stroke-width="1"/>
<rect x="686.56" y="524.60" width="16.30" height="35.60" fill="#fff" stroke="#000" stroke-width="1.6"/>
<rect x="763.20" y="521.20" width="17.60" height="39.00" fill="#000" stroke="none" stroke-width="1"/>
<rect x="746.10" y="504.80" width="16.30" height="55.40" fill="#fff" stroke="#000" stroke-width="1.6"/>
<polygon points="635.20,530.15 635.96,531.65 637.63,531.91 636.44,533.10 636.70,534.76 635.20,534.00 633.70,534.76 633.96,533.10 632.77,531.91 634.44,531.65" fill="#111"/>
<polygon points="694.20,510.15 694.96,511.65 696.63,511.91 695.44,513.10 695.70,514.76 694.20,514.00 692.70,514.76 692.96,513.10 691.77,511.91 693.44,511.65" fill="#111"/>
<polygon points="711.30,514.65 712.06,516.15 713.73,516.41 712.54,517.60 712.80,519.26 711.30,518.50 709.80,519.26 710.06,517.60 708.87,516.41 710.54,516.15" fill="#111"/>
<polygon points="753.70,489.75 754.46,491.25 756.13,491.51 754.94,492.70 755.20,494.36 753.70,493.60 752.20,494.36 752.46,492.70 751.27,491.51 752.94,491.25" fill="#111"/>
<polygon points="771.00,508.15 771.76,509.65 773.43,509.91 772.24,511.10 772.50,512.76 771.00,512.00 769.50,512.76 769.76,511.10 768.57,509.91 770.24,509.65" fill="#111"/>
<text x="737.50" y="77.50" font-size="12" fill="#111" textLength="47.70" lengthAdjust="spacingAndGlyphs">cytotoxic</text>
<path d="M732.6 100.5 C732.6 95 734 92.2 739 92.2 L756.5 92.2 C760 92.2 761.5 89 761.5 84.2 C761.5 89 763 92.2 766.5 92.2 L784.5 92.2 C789.5 92.2 790.9 95 790.9 100.5" fill="none" stroke="#222" stroke-width="1.2"/>
</svg>
</body></html>
